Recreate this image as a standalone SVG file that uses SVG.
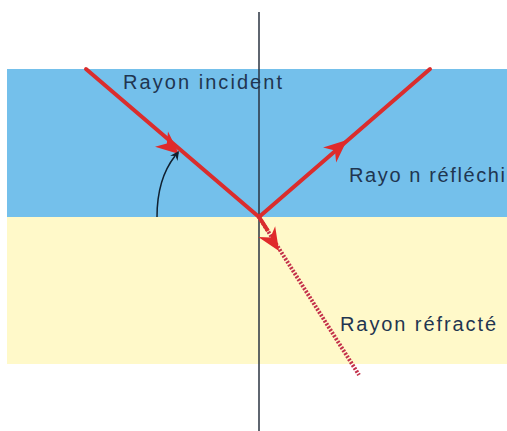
<svg xmlns="http://www.w3.org/2000/svg" width="507" height="431" viewBox="0 0 507 431">
<style>
.ray{stroke:#DA2D2D;stroke-width:4;fill:none;stroke-linecap:round}
.head{fill:#E02A2A}
.lbl{font-family:"Liberation Sans",Arial,sans-serif;font-size:20px;fill:#1F3550}
</style>
<rect width="507" height="431" fill="#FFFFFF"/>
<g id="media">
<rect x="7" y="69" width="500" height="148" fill="#74C0EB"/>
<rect x="7" y="217" width="500" height="147" fill="#FFF9C9"/>
</g>
<g id="normal"><line x1="259" y1="12" x2="259" y2="431" stroke="#2A3340" stroke-width="1.5"/></g>
<g id="connectors">
<g id="incident">
<line class="ray" x1="86" y1="69" x2="259" y2="217"/>
<polygon class="head" points="0,0 -23,-10 -16,0 -23,10" transform="translate(179,154) rotate(40.5)"/>
</g>
<g id="reflechi">
<line class="ray" x1="259" y1="217" x2="430" y2="69"/>
<polygon class="head" points="0,0 -23,-10 -16,0 -23,10" transform="translate(347,140) rotate(-40.9)"/>
</g>
<g id="refracte">
<line x1="259" y1="217" x2="359" y2="375" stroke="#C3304A" stroke-width="4" stroke-dasharray="2 1.5"/>
<line x1="259" y1="217" x2="268" y2="231" stroke="#DA2D2D" stroke-width="4"/>
<polygon class="head" points="0,0 -23,-10 -16,0 -23,10" transform="translate(279,251) rotate(57.7)"/>
</g>
<g id="angle">
<path d="M157,217 C157,190 164,170 175,156" fill="none" stroke="#102030" stroke-width="1.5"/>
<polygon points="0,0 -9,-4.5 -6,0 -9,4.5" fill="#102030" transform="translate(179,151) rotate(-55)"/>
</g>
</g>
<g id="labels">
<text class="lbl" x="123" y="89" textLength="159" lengthAdjust="spacing">Rayon incident</text>
<text class="lbl" x="349" y="182" textLength="156" lengthAdjust="spacing">Rayo n réfléchi</text>
<text class="lbl" x="340" y="331" textLength="156" lengthAdjust="spacing">Rayon réfracté</text>
</g>
</svg>
